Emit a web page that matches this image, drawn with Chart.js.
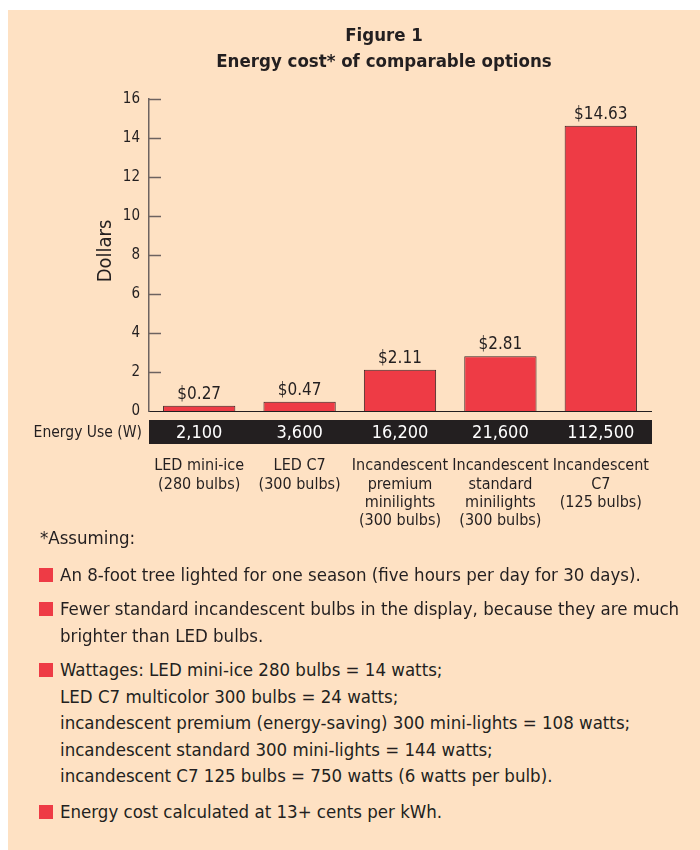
<!DOCTYPE html>
<html>
<head>
<meta charset="utf-8">
<script src="https://cdn.jsdelivr.net/npm/chart.js@4.4.1/dist/chart.umd.min.js"></script>
<style>
  html, body { margin: 0; padding: 0; background: #ffffff; width: 700px; height: 850px; overflow: hidden; }
  #panel { position: absolute; left: 8px; top: 10px; width: 692px; height: 840px; background: #fee1c3; }
  #wrap { position: absolute; left: 0; top: 0; width: 700px; height: 600px; }
  .note { position: absolute; left: 60px; font-family: "Liberation Sans Narrow", "DejaVu Sans Condensed", sans-serif; font-size: 18.5px; line-height: 26.5px; color: #231f20; white-space: nowrap; }
  .note .sq { position: absolute; left: -21px; top: 6px; width: 14px; height: 14px; background: #ee3b45; }
  #assume { left: 40px; }
</style>
</head>
<body>
<div id="panel"></div>
<div id="wrap"><canvas id="c" width="700" height="600"></canvas></div>
<div class="note" id="assume" style="top:525px;">*Assuming:</div>
<div class="note" style="top:562px;"><span class="sq"></span>An 8-foot tree lighted for one season (five hours per day for 30 days).</div>
<div class="note" style="top:596px;"><span class="sq"></span>Fewer standard incandescent bulbs in the display, because they are much<br>brighter than LED bulbs.</div>
<div class="note" style="top:657px;"><span class="sq"></span>Wattages: LED mini-ice 280 bulbs = 14 watts;<br>LED C7 multicolor 300 bulbs = 24 watts;<br>incandescent premium (energy-saving) 300 mini-lights = 108 watts;<br>incandescent standard 300 mini-lights = 144 watts;<br>incandescent C7 125 bulbs = 750 watts (6 watts per bulb).</div>
<div class="note" style="top:799px;"><span class="sq"></span>Energy cost calculated at 13+ cents per kWh.</div>
<script>
// ---- data ----
const categories = [
  ["LED mini-ice", "(280 bulbs)"],
  ["LED C7", "(300 bulbs)"],
  ["Incandescent", "premium", "minilights", "(300 bulbs)"],
  ["Incandescent", "standard", "minilights", "(300 bulbs)"],
  ["Incandescent", "C7", "(125 bulbs)"]
];
const energyCost = [0.27, 0.47, 2.11, 2.81, 14.63];
const energyUse = ["2,100", "3,600", "16,200", "21,600", "112,500"];
const yTickValues = [0, 2, 4, 6, 8, 10, 12, 14, 16];
const titleLines = ["Figure 1", "Energy cost* of comparable options"];
const yAxisTitle = "Dollars";
const energyRowLabel = "Energy Use (W)";

const FONT = '"Liberation Sans Narrow", "DejaVu Sans Condensed", sans-serif';
const INK = '#231f20';

const extras = {
  id: 'extras',
  afterDatasetsDraw(chart) {
    const ctx = chart.ctx;
    const ca = chart.chartArea;
    const x = chart.scales.x, y = chart.scales.y;
    ctx.save();
    // title
    ctx.fillStyle = INK;
    ctx.textAlign = 'center';
    ctx.textBaseline = 'middle';
    ctx.font = 'bold 18.5px ' + FONT;
    ctx.fillText(titleLines[0], 384, 36);
    ctx.fillText(titleLines[1], 384, 62);
    // y axis title
    ctx.save();
    ctx.translate(106, 251);
    ctx.rotate(-Math.PI / 2);
    ctx.font = '20px ' + FONT;
    ctx.fillText(yAxisTitle, 0, 0);
    ctx.restore();
    // inner tick marks
    ctx.strokeStyle = '#6d6360';
    ctx.lineWidth = 1.5;
    yTickValues.forEach(v => {
      const py = Math.round(y.getPixelForValue(v)) + 0.5;
      if (v === 0) return;
      ctx.beginPath();
      ctx.moveTo(ca.left, py);
      ctx.lineTo(ca.left + 12, py);
      ctx.stroke();
    });
    // value labels
    ctx.fillStyle = INK;
    ctx.font = '17px ' + FONT;
    ctx.textBaseline = 'alphabetic';
    const meta = chart.getDatasetMeta(0);
    meta.data.forEach((bar, i) => {
      ctx.fillText('$' + energyCost[i].toFixed(2), bar.x, bar.y - 7);
    });
    // energy use band
    ctx.fillStyle = INK;
    ctx.fillRect(ca.left, 420, ca.right - ca.left + 1, 24);
    ctx.fillStyle = '#ffffff';
    ctx.font = '18px ' + FONT;
    ctx.textBaseline = 'middle';
    energyUse.forEach((t, i) => {
      ctx.fillText(t, x.getPixelForValue(i), 433);
    });
    ctx.fillStyle = INK;
    ctx.textAlign = 'right';
    ctx.font = '15.5px ' + FONT;
    ctx.fillText(energyRowLabel, 142, 433);
    ctx.restore();
  }
};

new Chart(document.getElementById('c'), {
  type: 'bar',
  data: {
    labels: categories,
    datasets: [{
      data: energyCost,
      backgroundColor: '#ee3b45',
      borderColor: '#3a2424',
      borderWidth: 1,
      borderSkipped: 'bottom',
      barPercentage: 0.72,
      categoryPercentage: 1.0
    }]
  },
  options: {
    responsive: false,
    animation: false,
    layout: { padding: { left: 0, right: 49, top: 99, bottom: 0 } },
    plugins: { legend: { display: false }, title: { display: false }, tooltip: { enabled: false } },
    scales: {
      x: {
        grid: { display: false, drawTicks: false },
        border: { display: true, color: INK, width: 1 },
        ticks: {
          color: INK,
          font: { family: FONT, size: 16, lineHeight: 1.14 },
          padding: 46,
          maxRotation: 0,
          autoSkip: false
        },
        afterFit(scale) { scale.height = 189; }
      },
      y: {
        min: 0, max: 16,
        afterBuildTicks(scale) { scale.ticks = yTickValues.map(v => ({ value: v })); },
        grid: { display: false, drawTicks: false },
        border: { display: true, color: '#6d6360', width: 1.5 },
        ticks: {
          color: INK,
          font: { family: FONT, size: 15 },
          padding: 9
        },
        afterFit(scale) { scale.width = 149; }
      }
    }
  },
  plugins: [extras]
});
</script>
</body>
</html>
